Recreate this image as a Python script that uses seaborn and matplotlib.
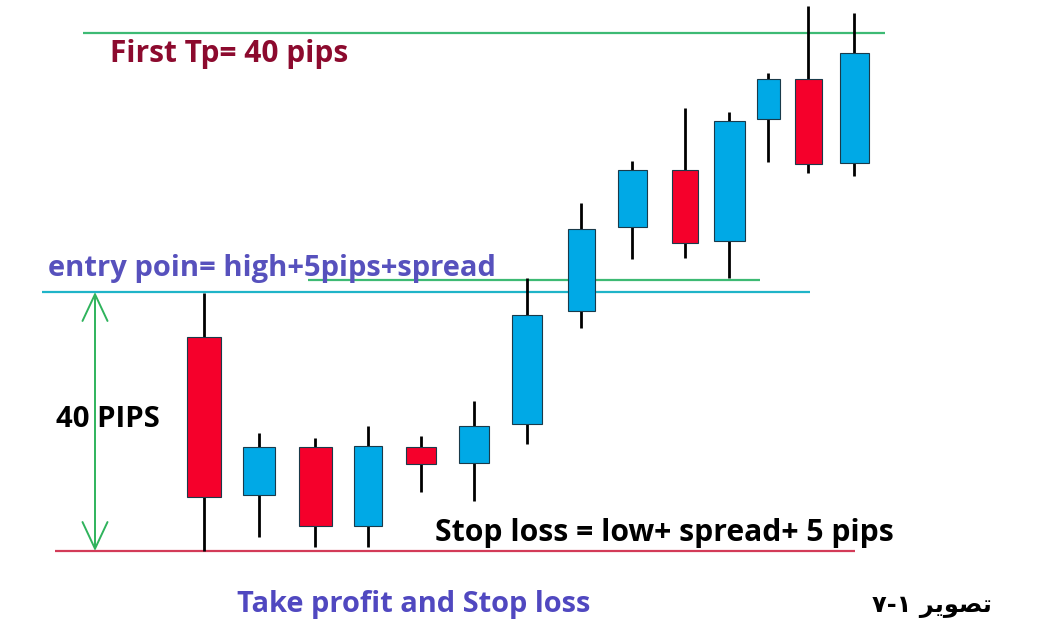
import numpy as np
import pandas as pd
import matplotlib
matplotlib.use("Agg")
import matplotlib.pyplot as plt
import seaborn as sns

# ---------------- data (price in pips above the stop-loss level) ----------------
session = [204, 259, 315, 368, 421, 474, 527, 581, 632, 685, 729, 768, 808, 854]
open_ = [33.0, 8.6, 16.1, 3.9, 16.1, 13.6, 19.6, 37.1, 50.0, 58.8, 47.9, 66.7, 72.9, 59.9]
close = [8.3, 16.1, 3.9, 16.2, 13.4, 19.3, 36.4, 49.7, 58.8, 47.6, 66.4, 72.9, 59.8, 76.9]
high = [39.8, 18.2, 17.5, 19.3, 17.8, 23.2, 42.2, 53.7, 60.2, 68.4, 67.8, 73.8, 84.2, 83.1]
low = [0.0, 2.2, 0.6, 0.6, 9.1, 7.7, 16.5, 34.4, 45.1, 45.3, 42.2, 60.1, 58.4, 57.9]

tp_level = 80.0
entry_level = 40.0
high_level = 41.9
stop_level = 0.0

label_tp = "First Tp= 40 pips"
label_entry = "entry poin= high+5pips+spread"
label_pips = "40 PIPS"
label_stop = "Stop loss = low+ spread+ 5 pips"
label_title = "Take profit and Stop loss"
label_fig = "\u0667-\u0661 \uFEAE\uFEF3\uFEEE\uFEBC\uFE97"   # تصوير ١-٧ (visual order)

df = pd.DataFrame({"t": session, "open": open_, "close": close, "high": high, "low": low})
df["bull"] = df["close"] > df["open"]
df["bottom"] = df[["open", "close"]].min(axis=1)
df["height"] = (df["close"] - df["open"]).abs()

# ---------------- style ----------------
sns.set_theme(style="white")
plt.rcParams["font.family"] = ["Open Sans", "DejaVu Sans"]

W, H = 1050, 636
fig = plt.figure(figsize=(W / 100, H / 100), dpi=100)
ax = fig.add_axes([0, 0, 1, 1])
px_per_pip = 6.475
ax.set_xlim(0, W)
ax.set_ylim((551 - H) / px_per_pip, 551 / px_per_pip)
ax.axis("off")

RED = "#f5002b"
BLUE = "#00a9e6"
widths = [34, 32, 33, 28, 30, 30, 30, 27, 29, 26, 31, 23, 27, 29]

# wicks
ax.vlines(df["t"], df["low"], df["high"], color="black", lw=2.0, zorder=2)
# bodies
colors = [BLUE if b else RED for b in df["bull"]]
ax.bar(df["t"], df["height"], bottom=df["bottom"], width=widths, color=colors,
       edgecolor="#1a3a4a", linewidth=0.8, zorder=3)

# levels
ax.hlines(tp_level, 83, 885, color="#3dba74", lw=1.6, zorder=1)
ax.hlines(high_level, 308, 760, color="#3dba74", lw=1.6, zorder=1)
ax.hlines(entry_level, 42, 810, color="#1fb4c8", lw=1.6, zorder=1)
ax.hlines(stop_level, 55, 855, color="#d33b58", lw=1.6, zorder=1)

# 40-pip arrow
ax.annotate("", xy=(95, stop_level), xytext=(95, entry_level),
            arrowprops=dict(arrowstyle="<->,head_length=1.6,head_width=0.75",
                            color="#2fb35c", lw=1.4, shrinkA=0, shrinkB=0))

tr = fig.transFigure
renderer = fig.canvas.get_renderer()


def put(label, x0, x1, ybase, color, family=None):
    kw = dict(transform=tr, color=color, fontsize=18, fontweight="bold",
              va="baseline", ha="left")
    if family is not None:
        kw["family"] = family
    t = ax.text(x0 / W, 1 - ybase / H, label, **kw)
    w = t.get_window_extent(renderer=renderer).width
    t.set_fontsize(18 * (x1 - x0) / w)
    return t


put(label_tp, 110, 348, 62, "#8c0a2e")
put(label_entry, 48, 497, 276, "#5751bd")
put(label_pips, 56, 160, 427, "black")
put(label_stop, 435, 895, 541, "black")
put(label_title, 237, 592, 612, "#5048c0")
put(label_fig, 872, 992, 612, "black", family=["DejaVu Sans"])

fig.savefig("out.png", dpi=100, facecolor="white")
